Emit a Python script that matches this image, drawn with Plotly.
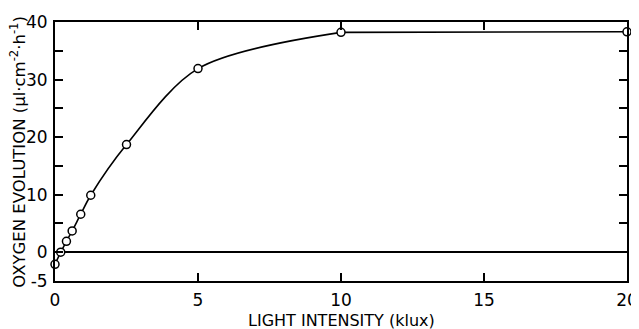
import plotly.graph_objects as go

# Data
light_klux = [0, 0.2, 0.4, 0.6, 0.9, 1.25, 2.5, 5, 10, 20]
oxygen_evolution = [-2.1, 0.0, 1.9, 3.7, 6.6, 9.9, 18.7, 31.9, 38.2, 38.3]

x_ticks = [0, 5, 10, 15, 20]
x_tick_text = ["0", "5", "10", "15", "20"]
y_ticks = [-5, 0, 10, 20, 30, 40]
y_tick_text = ["-5", "0", "10", "20", "30", "40"]

FONT = "DejaVu Sans"

fig = go.Figure()
# smooth curve up to the plateau
fig.add_trace(go.Scatter(
    x=light_klux[:9], y=oxygen_evolution[:9],
    mode="lines",
    line=dict(color="black", width=1.6, shape="spline", smoothing=0.9),
    cliponaxis=False, showlegend=False, hoverinfo="skip",
))
# plateau
fig.add_trace(go.Scatter(
    x=light_klux[8:], y=oxygen_evolution[8:],
    mode="lines",
    line=dict(color="black", width=1.6),
    cliponaxis=False, showlegend=False, hoverinfo="skip",
))
fig.add_trace(go.Scatter(
    x=light_klux, y=oxygen_evolution,
    mode="markers",
    marker=dict(symbol="circle", size=8, color="white",
                line=dict(color="black", width=1.5)),
    cliponaxis=False, showlegend=False,
))

fig.update_layout(
    width=631, height=321,
    margin=dict(l=47, r=12, t=14, b=48, autoexpand=False),
    paper_bgcolor="white", plot_bgcolor="white",
    font=dict(family=FONT, color="black", size=17),
    xaxis=dict(
        range=[0, 20], tickvals=x_ticks, ticktext=x_tick_text,
        ticks="inside", ticklen=8, tickwidth=1.6, tickcolor="black",
        showline=True, linecolor="black", linewidth=2, mirror="ticks",
        showgrid=False, zeroline=False, ticklabelstandoff=3,
        tickfont=dict(size=17), automargin=False,
    ),
    yaxis=dict(
        range=[-5, 40], tickvals=y_ticks, ticktext=y_tick_text,
        ticks="inside", ticklen=8, tickwidth=1.6, tickcolor="black",
        minor=dict(tick0=-5, dtick=5, ticks="inside", ticklen=8,
                   tickwidth=1.6, tickcolor="black", showgrid=False),
        showline=True, linecolor="black", linewidth=2, mirror="ticks",
        showgrid=False, zeroline=True, zerolinecolor="black", zerolinewidth=1.6,
        ticklabelstandoff=2,
        tickfont=dict(size=17), automargin=False,
    ),
    annotations=[
        dict(text="LIGHT INTENSITY (klux)", xref="paper", yref="paper",
             x=0.5, y=-0.152, xanchor="center", yanchor="middle",
             showarrow=False, font=dict(size=16)),
        dict(text="OXYGEN EVOLUTION (µl·cm<sup>-2</sup>·h<sup>-1</sup>)",
             xref="paper", yref="paper", x=-0.066, y=0.5,
             xanchor="center", yanchor="middle", textangle=-90,
             showarrow=False, font=dict(size=16.5)),
    ],
)

fig.write_html("out.html")
